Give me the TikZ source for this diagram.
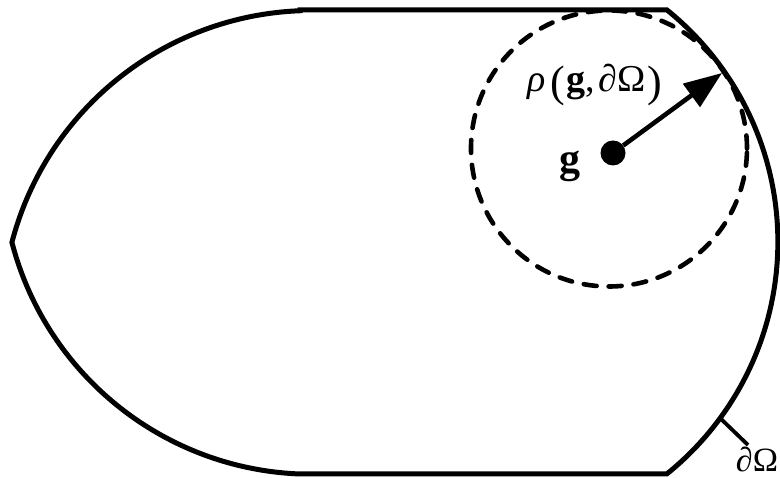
\documentclass[tikz,border=0pt]{standalone}
\usepackage{fontspec}
\setmainfont{Liberation Serif}
\usetikzlibrary{arrows.meta, positioning}
\tikzstyle{boundary} = [line width=5pt, line join=miter]
\tikzstyle{ball}     = [line width=4.6pt, dash pattern=on 13pt off 12pt, line cap=round]
\tikzstyle{arrow}    = [line width=4.6pt, -{Triangle[length=38pt,width=28pt]}]
\tikzstyle{point}    = [circle, fill=black, minimum size=25pt, inner sep=0pt]
\tikzstyle{tag}      = [inner sep=0pt, font=\fontsize{38}{44}\selectfont]
\newcommand{\bigpar}[1]{\raisebox{-5pt}{\fontsize{44}{50}\selectfont #1}}

\begin{document}
\begin{tikzpicture}[x=1pt,y=1pt]
\useasboundingbox (0,0) rectangle (780,478);

% domain Omega
\coordinate (TL) at (300,468);
\coordinate (TR) at (667,468);
\coordinate (BL) at (300,4);
\draw[boundary] (TL) -- (TR) arc[start angle=51.1, end angle=-51.1, radius=298] -- (BL)
  arc[start angle=-92.2, end angle=-165.4, radius=310]
  arc[start angle=165.4, end angle=92.2, radius=310] -- cycle;

% ball around g
\draw[ball] (609,329.5) circle[radius=138];

\node[point] (g) at (613,325) {};
\node[tag, anchor=base, font=\fontsize{42}{48}\selectfont] (glabel) at (570,305) {\textbf{g}};
\node[tag, anchor=base] (rho) at (595,386)
  {\textit{ρ}\kern4pt\bigpar{(}\kern2pt\textbf{g},\kern3pt\textit{∂}Ω\kern2pt\bigpar{)}};

\coordinate (touch) at (722,405);
\draw[arrow] (g) -- (touch);

% boundary label
\coordinate (foot) at (720,60);
\coordinate (end) at (748,33);
\node[tag, anchor=base, font=\fontsize{34}{40}\selectfont] (dOmega) at (757,6) {\textit{∂}Ω};
\draw[line width=3.8pt] (foot) -- (end);

\end{tikzpicture}
\end{document}
